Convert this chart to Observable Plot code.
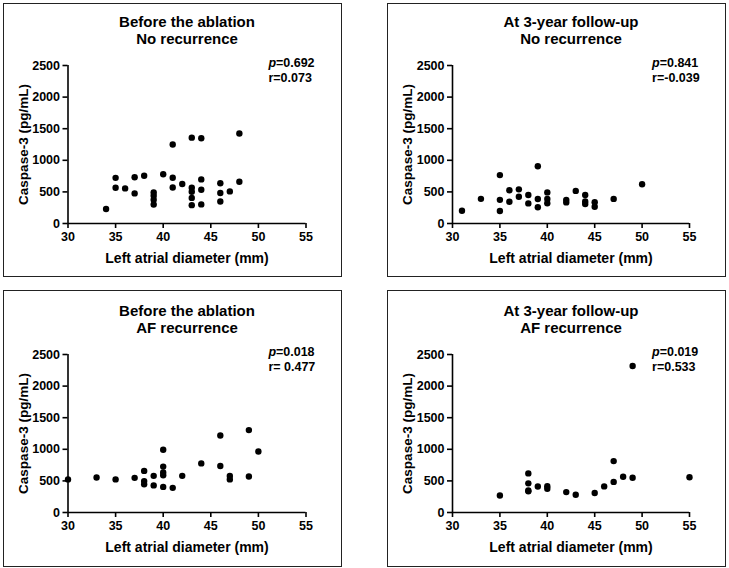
<!DOCTYPE html>
<html>
<head>
<meta charset="utf-8">
<script src="https://cdn.jsdelivr.net/npm/d3@7"></script>
<script src="https://cdn.jsdelivr.net/npm/@observablehq/plot@0.6"></script>
<style>
  html, body { margin: 0; padding: 0; background: #fff; }
  #root { position: relative; width: 729px; height: 568px; overflow: hidden; font-family: "Liberation Sans", Arial, sans-serif; }
  .box { position: absolute; border: 1.4px solid #222; box-sizing: border-box; }
  svg { position: absolute; }
</style>
</head>
<body>
<div id="root"></div>
<script>
// ---- data ----
const xTicks = [30, 35, 40, 45, 50, 55];
const yTicks = [0, 500, 1000, 1500, 2000, 2500];
const xLabel = "Left atrial diameter (mm)";
const yLabel = "Caspase-3 (pg/mL)";

const titlesTop = ["Before the ablation", "At 3-year follow-up", "Before the ablation", "At 3-year follow-up"];
const titlesBottom = ["No recurrence", "No recurrence", "AF recurrence", "AF recurrence"];
const pValues = ["=0.692", "=0.841", "=0.018", "=0.019"];
const rValues = ["r=0.073", "r=-0.039", "r= 0.477", "r=0.533"];

// Before the ablation, no recurrence
const beforeNoRecX = [34,35,35,36,37,37,38,39,39,39,39,40,41,41,41,42,43,43,43,43,43,44,44,44,44,46,46,46,47,48,48];
const beforeNoRecY = [230,722,566,555,732,476,755,492,440,376,300,780,1250,724,570,624,1358,566,503,405,290,1350,698,535,302,637,482,347,508,1424,661];
// At 3-year follow-up, no recurrence
const followNoRecX = [31,33,35,35,35,36,36,37,37,38,38,39,39,39,40,40,40,42,42,43,44,44,44,45,45,47,50];
const followNoRecY = [202,390,766,374,197,527,345,540,424,450,318,905,387,258,492,387,321,374,334,516,450,348,308,337,264,389,621];
// Before the ablation, AF recurrence
const beforeAFX = [30,33,35,37,38,38,38,39,39,40,40,40,40,40,41,42,44,46,46,47,47,49,49,50];
const beforeAFY = [524,553,524,548,658,497,447,580,429,992,726,634,590,405,390,580,777,1218,735,577,524,1304,569,966];
// At 3-year follow-up, AF recurrence
const followAFX = [35,38,38,38,38,39,40,40,42,43,45,46,47,47,48,49,49,55];
const followAFY = [269,619,461,347,335,411,416,376,323,281,308,413,813,484,566,2319,550,558];

const seriesX = [beforeNoRecX, followNoRecX, beforeAFX, followAFX];
const seriesY = [beforeNoRecY, followNoRecY, beforeAFY, followAFY];

// ---- layout ----
const FONT = "Liberation Sans, Arial, sans-serif";
const root = document.getElementById("root");

const boxes = [
  {l: 3, t: 3, r: 342, b: 277},
  {l: 387, t: 3, r: 726, b: 277},
  {l: 3, t: 290, r: 342, b: 567},
  {l: 387, t: 290, r: 726, b: 567}
];
const frames = [
  {left: 0,   top: 0,   w: 345, h: 280, ml: 67.5, mr: 39.5, mt: 65, mb: 57},
  {left: 364, top: 0,   w: 365, h: 280, ml: 88,   mr: 40,   mt: 65, mb: 57},
  {left: 0,   top: 283, w: 345, h: 285, ml: 67.5, mr: 39.5, mt: 71, mb: 56},
  {left: 364, top: 283, w: 365, h: 285, ml: 88,   mr: 40,   mt: 71, mb: 56}
];

boxes.forEach(b => {
  const d = document.createElement("div");
  d.className = "box";
  d.style.left = b.l + "px"; d.style.top = b.t + "px";
  d.style.width = (b.r - b.l) + "px"; d.style.height = (b.b - b.t) + "px";
  root.appendChild(d);
});

const T = {fontWeight: "bold", fill: "#000", lineAnchor: "middle"};

for (let i = 0; i < 4; i++) {
  const f = frames[i];
  const data = seriesX[i].map((x, j) => ({x, y: seriesY[i][j]}));
  const svg = Plot.plot({
    width: f.w, height: f.h,
    marginLeft: f.ml, marginRight: f.mr, marginTop: f.mt, marginBottom: f.mb,
    x: {domain: [30, 55]},
    y: {domain: [0, 2500]},
    style: {fontFamily: FONT, color: "#000", background: "transparent", overflow: "visible"},
    marks: [
      Plot.axisX({ticks: xTicks, tickSize: 5, tickPadding: 4, fontSize: 12.5, fontWeight: "bold", strokeWidth: 1.6, label: null, tickFormat: d => String(d)}),
      Plot.axisY({ticks: yTicks, tickSize: 5, tickPadding: 3, fontSize: 12.5, fontWeight: "bold", strokeWidth: 1.6, label: null, tickFormat: d => String(d)}),
      Plot.ruleY([0], {stroke: "#000", strokeWidth: 1.6}),
      Plot.ruleX([30], {stroke: "#000", strokeWidth: 1.6}),
      Plot.dot(data, {x: "x", y: "y", r: 3.2, fill: "#000", stroke: "none"}),
      Plot.text([titlesTop[i]], {...T, frameAnchor: "top", textAnchor: "middle", dy: -43, fontSize: 15}),
      Plot.text([titlesBottom[i]], {...T, frameAnchor: "top", textAnchor: "middle", dy: -26, fontSize: 15}),
      Plot.text(["p"], {...T, x: [51.05], frameAnchor: "top", dy: -3, textAnchor: "start", fontSize: 12.5, fontStyle: "italic"}),
      Plot.text([pValues[i]], {...T, x: [51.05], frameAnchor: "top", dy: -3, dx: 7.6, textAnchor: "start", fontSize: 12.5}),
      Plot.text([rValues[i]], {...T, x: [51.05], frameAnchor: "top", dy: 12, textAnchor: "start", fontSize: 12.5}),
      Plot.text([xLabel], {...T, frameAnchor: "bottom", textAnchor: "middle", dy: 35, fontSize: 14}),
      Plot.text([yLabel], {...T, frameAnchor: "left", textAnchor: "middle", dx: -44.5, rotate: -90, fontSize: 13.5})
    ]
  });
  svg.style.left = f.left + "px";
  svg.style.top = f.top + "px";
  root.appendChild(svg);
}
</script>
</body>
</html>
